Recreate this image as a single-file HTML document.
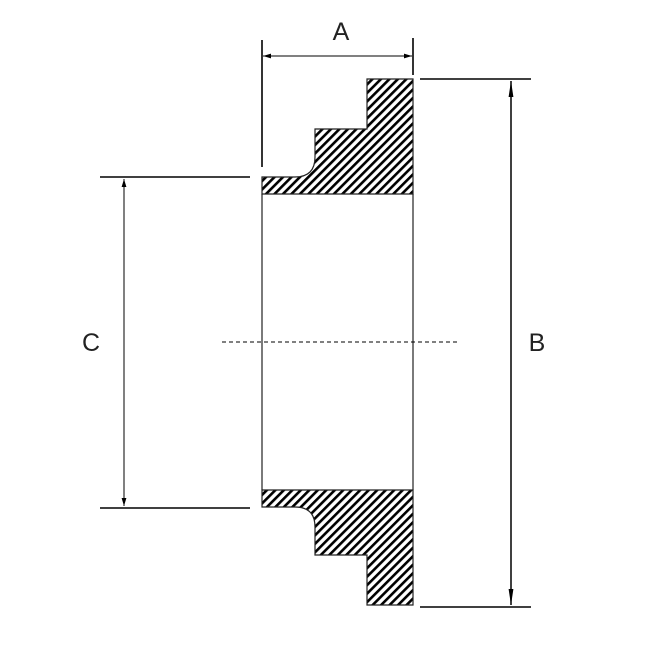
<!DOCTYPE html>
<html><head><meta charset="utf-8"><style>
html,body{margin:0;padding:0;background:#fff;width:650px;height:650px;overflow:hidden}
svg{display:block}
</style></head><body>
<svg width="650" height="650" viewBox="0 0 650 650" xmlns="http://www.w3.org/2000/svg">
<defs>
<pattern id="h" patternUnits="userSpaceOnUse" width="6" height="6" patternTransform="rotate(45)">
<rect x="0" y="0" width="2.6" height="6" fill="#000"/>
</pattern>
<marker id="ar" viewBox="0 0 10 10" refX="10" refY="5" markerWidth="8" markerHeight="8" orient="auto-start-reverse" markerUnits="userSpaceOnUse">
<path d="M0,2 L10,5 L0,8 z" fill="#000"/>
</marker>
<marker id="arB" viewBox="0 0 10 10" refX="10" refY="5" markerWidth="16" markerHeight="16" orient="auto-start-reverse" markerUnits="userSpaceOnUse">
<path d="M0,3.5 L10,5 L0,6.5 z" fill="#000"/>
</marker>
</defs>
<g stroke="#222" stroke-width="1.2">
<path d="M262,177 L295,177 Q315,177 315,157 L315,129 L367,129 L367,79 L413,79 L413,194 L262,194 Z" fill="url(#h)"/>
<path d="M262,507 L295,507 Q315,507 315,527 L315,555 L367,555 L367,605 L413,605 L413,490 L262,490 Z" fill="url(#h)"/>
<line x1="262" y1="194" x2="262" y2="490"/>
<line x1="413" y1="194" x2="413" y2="490"/>
</g>
<g stroke="#000" stroke-width="1.6" fill="none">
<line x1="262" y1="40" x2="262" y2="167"/>
<line x1="413" y1="38" x2="413" y2="75"/>
<line x1="420" y1="79" x2="531" y2="79"/>
<line x1="420" y1="607" x2="531" y2="607"/>
<line x1="100" y1="177" x2="250" y2="177"/>
<line x1="100" y1="508" x2="250" y2="508"/>
</g>
<g stroke="#000" stroke-width="1" fill="none">
<line x1="263" y1="56" x2="412" y2="56" marker-start="url(#ar)" marker-end="url(#ar)"/>
<line x1="124" y1="179" x2="124" y2="506" marker-start="url(#ar)" marker-end="url(#ar)"/>
</g>
<line x1="511" y1="81" x2="511" y2="605" stroke="#000" stroke-width="1.5" marker-start="url(#arB)" marker-end="url(#arB)"/>
<line x1="222" y1="342" x2="458" y2="342" stroke="#000" stroke-width="1" stroke-dasharray="4,3"/>
<g font-family="Liberation Sans, sans-serif" font-size="25" fill="#222" text-anchor="middle">
<text x="341" y="40">A</text>
<text x="537" y="351">B</text>
<text x="91" y="351">C</text>
</g>
</svg>
</body></html>
